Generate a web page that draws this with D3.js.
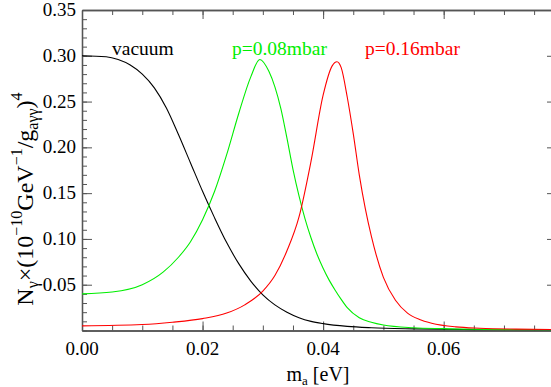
<!DOCTYPE html>
<html>
<head>
  <meta charset="UTF-8">
  <style>
    body { margin: 0; background: #fff; }
    svg text { font-family: "Liberation Serif", "DejaVu Serif", "Noto Serif", serif; }
  </style>
  <title>axion photons</title>
</head>
<body>
<svg></svg>
<script src="https://d3js.org/d3.v7.min.js"></script>
<script>

// values (m_a in eV, N_gamma in units of (1e-10 GeV^-1 / g)^4)
const vacM = [0, 0.004, 0.006, 0.008, 0.010, 0.012, 0.014, 0.016, 0.018, 0.020, 0.022, 0.024, 0.026, 0.028, 0.030, 0.032, 0.034, 0.036, 0.038, 0.040, 0.044, 0.048, 0.055, 0.065, 0.0788];
const vacN = [0.300, 0.299, 0.296, 0.290, 0.280, 0.265, 0.243, 0.214, 0.183, 0.152, 0.123, 0.096, 0.073, 0.054, 0.039, 0.028, 0.020, 0.014, 0.010, 0.0075, 0.0045, 0.003, 0.0018, 0.001, 0.0005];

const p08M = [0, 0.005, 0.010, 0.0135, 0.016, 0.018, 0.020, 0.022, 0.024, 0.026, 0.028, 0.0295, 0.031, 0.032, 0.033, 0.034, 0.035, 0.036, 0.037, 0.038, 0.039, 0.040, 0.041, 0.042, 0.043, 0.044, 0.046, 0.048, 0.050, 0.055, 0.060, 0.070, 0.0788];
const p08N = [0.040, 0.042, 0.050, 0.064, 0.080, 0.097, 0.121, 0.152, 0.192, 0.237, 0.277, 0.296, 0.283, 0.266, 0.242, 0.210, 0.176, 0.147, 0.122, 0.101, 0.083, 0.068, 0.055, 0.044, 0.034, 0.025, 0.014, 0.009, 0.006, 0.003, 0.002, 0.001, 0.0007];

const p16M = [0, 0.010, 0.015, 0.020, 0.024, 0.027, 0.030, 0.032, 0.034, 0.036, 0.038, 0.040, 0.0415, 0.0423, 0.043, 0.044, 0.045, 0.046, 0.047, 0.048, 0.050, 0.052, 0.054, 0.056, 0.058, 0.062, 0.066, 0.072, 0.0788];
const p16N = [0.005, 0.0065, 0.009, 0.013, 0.019, 0.028, 0.043, 0.060, 0.087, 0.124, 0.185, 0.257, 0.289, 0.2935, 0.287, 0.255, 0.215, 0.170, 0.133, 0.103, 0.058, 0.033, 0.019, 0.012, 0.008, 0.004, 0.0025, 0.0015, 0.001];

const xTicks = [0, 0.02, 0.04, 0.06];
const yTicks = [0.05, 0.10, 0.15, 0.20, 0.25, 0.30, 0.35];

const labels = ["vacuum", "p=0.08mbar", "p=0.16mbar"];
const colors = ["#000000", "#00ee00", "#ff0000"];

let width = 551, height = 387;
let mLeft = 82, mRight = 557, mTop = 10, mBottom = 330.5;

let svg = d3.select("svg")
    .attr("width", width)
    .attr("height", height);

let x = d3.scaleLinear().domain([0, 0.0788]).range([mLeft, mRight]);
let y = d3.scaleLinear().domain([0, 0.35]).range([mBottom, mTop]);

let axisColor = "#555";

// frame with ticks on all four sides, pointing inward
let xMinor = d3.range(0, 0.0789, 0.005);
let yMinor = d3.range(0, 0.351, 0.01);

function drawAxis(axis, pos, isX) {
  svg.append("g")
    .attr("transform", isX ? "translate(0," + pos + ")" : "translate(" + pos + ",0)")
    .call(axis)
    .call(g => g.select(".domain").attr("stroke", axisColor).attr("stroke-width", 1.3))
    .call(g => g.selectAll(".tick line").attr("stroke", axisColor))
    .call(g => g.selectAll("text").remove());
}

drawAxis(d3.axisBottom(x).tickValues(xMinor).tickSize(-5).tickSizeOuter(0), mBottom, true);
drawAxis(d3.axisBottom(x).tickValues(xTicks).tickSize(-9).tickSizeOuter(0), mBottom, true);
drawAxis(d3.axisTop(x).tickValues(xMinor).tickSize(-5).tickSizeOuter(0), mTop, true);
drawAxis(d3.axisTop(x).tickValues(xTicks).tickSize(-9).tickSizeOuter(0), mTop, true);
drawAxis(d3.axisLeft(y).tickValues(yMinor).tickSize(-5).tickSizeOuter(0), mLeft, false);
drawAxis(d3.axisLeft(y).tickValues(yTicks).tickSize(-10).tickSizeOuter(0), mLeft, false);
drawAxis(d3.axisRight(y).tickValues(yMinor).tickSize(-5).tickSizeOuter(0), mRight, false);
drawAxis(d3.axisRight(y).tickValues(yTicks).tickSize(-10).tickSizeOuter(0), mRight, false);

// tick labels
svg.append("g").selectAll("text")
  .data(xTicks)
  .enter()
  .append("text")
    .attr("x", d => x(d))
    .attr("y", 355)
    .attr("text-anchor", "middle")
    .attr("font-size", 19)
    .text(d => d.toFixed(2));

svg.append("g").selectAll("text")
  .data(yTicks)
  .enter()
  .append("text")
    .attr("x", 76)
    .attr("y", d => y(d) + 6)
    .attr("text-anchor", "end")
    .attr("font-size", 19)
    .text(d => d.toFixed(2));

// axis titles
let xt = svg.append("text")
    .attr("x", 318)
    .attr("y", 381)
    .attr("text-anchor", "middle")
    .attr("font-size", 20);
xt.append("tspan").text("m");
xt.append("tspan").attr("font-size", 13).attr("dy", 4).text("a");
xt.append("tspan").attr("dy", -4).text(" [eV]");

let yt = svg.append("text")
    .attr("transform", "translate(33,199) rotate(-90)")
    .attr("text-anchor", "middle")
    .attr("font-size", 24);
yt.append("tspan").text("N");
yt.append("tspan").attr("font-size", 16).attr("dy", 5).text("γ");
yt.append("tspan").attr("dy", -5).text("×(10");
yt.append("tspan").attr("font-size", 16).attr("dy", -11).text("−10");
yt.append("tspan").attr("dy", 11).text("GeV");
yt.append("tspan").attr("font-size", 16).attr("dy", -11).text("−1");
yt.append("tspan").attr("dy", 11).text("/g");
yt.append("tspan").attr("font-size", 16).attr("dy", 5).text("aγγ");
yt.append("tspan").attr("dy", -5).text(")");
yt.append("tspan").attr("font-size", 16).attr("dy", -11).text("4");

// curves
let series = [
  {m: vacM, n: vacN},
  {m: p08M, n: p08N},
  {m: p16M, n: p16N}
];

let line = d3.line()
    .x(d => x(d[0]))
    .y(d => y(d[1]))
    .curve(d3.curveMonotoneX);

svg.append("defs").append("clipPath").attr("id", "clip")
  .append("rect")
    .attr("x", mLeft).attr("y", mTop)
    .attr("width", mRight - mLeft).attr("height", mBottom - mTop);

svg.append("g")
    .attr("clip-path", "url(#clip)")
  .selectAll("path")
  .data(series)
  .enter()
  .append("path")
    .attr("fill", "none")
    .attr("stroke", (d, i) => colors[i])
    .attr("stroke-width", 1.1)
    .attr("d", d => line(d.m.map((v, i) => [v, d.n[i]])));

// series labels
let labelX = [112, 232, 365];
svg.append("g").selectAll("text")
  .data(labels)
  .enter()
  .append("text")
    .attr("x", (d, i) => labelX[i])
    .attr("y", 55)
    .attr("font-size", 19.5)
    .attr("fill", (d, i) => colors[i])
    .text(d => d);

</script>
</body>
</html>
